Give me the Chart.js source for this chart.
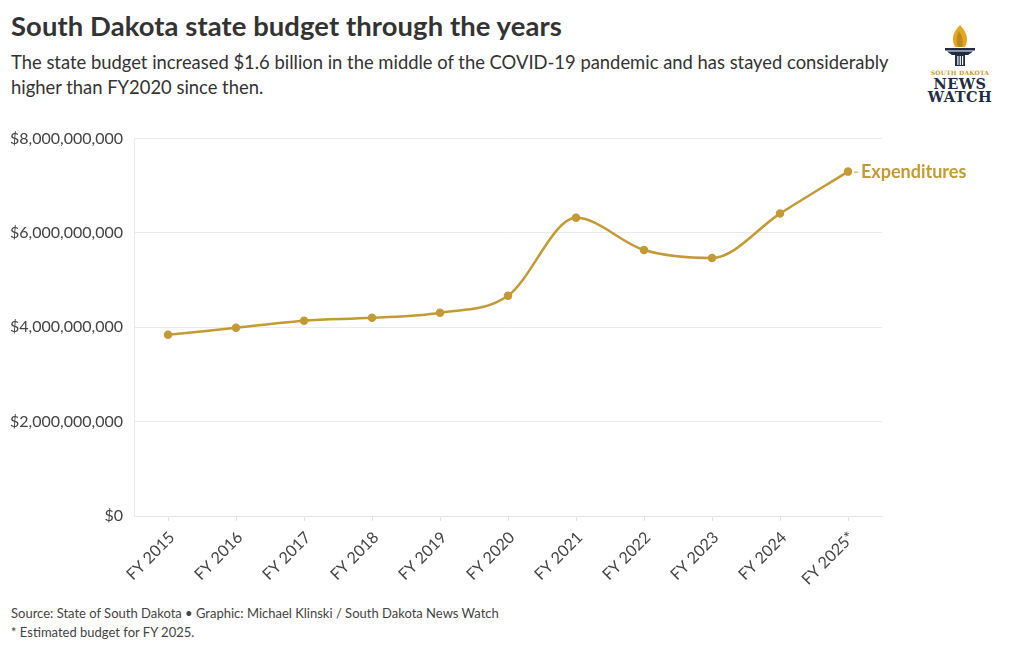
<!DOCTYPE html>
<html>
  <head>
    <meta charset="utf-8" />
    <title>South Dakota state budget through the years</title>
    <script src="https://cdn.jsdelivr.net/npm/chart.js@4"></script>
    <style>
      body { margin: 0; background: #fff; font-family: Lato, "Open Sans", sans-serif; color: #333; }
      #page { position: relative; width: 1020px; height: 650px; overflow: hidden; }
      h1 { position: absolute; left: 11px; top: 9px; margin: 0; font-size: 27.4px; font-weight: 700; color: #333; letter-spacing: 0.1px; }
      .sub { position: absolute; left: 11px; top: 50px; width: 900px; margin: 0; font-size: 18.4px; line-height: 25px; color: #333; }
      .foot { position: absolute; left: 11px; top: 604px; font-size: 13px; line-height: 19px; color: #444; }
      #chartBox { position: absolute; left: 0; top: 118px; width: 1020px; height: 477px; }
      #logo { position: absolute; left: 926px; top: 22px; width: 68px; text-align: center; color: #1f2d44; }
      #logo svg { display: block; }
      #logo .sd { font-family: "DejaVu Serif"; font-weight: 700; font-size: 6px; line-height: 7px; color: #c4982f; letter-spacing: 0.2px; margin-top: 1px; }
      #logo .nw { font-family: "DejaVu Serif"; font-weight: 700; font-size: 14.5px; line-height: 13px; letter-spacing: 0.5px; margin-top: 1px; }
    </style>
  </head>
  <body>
    <div id="page">
      <h1>South Dakota state budget through the years</h1>
      <p class="sub">The state budget increased $1.6 billion in the middle of the COVID-19 pandemic and has stayed considerably higher than FY2020 since then.</p>
      <div id="logo">
        <svg width="68" height="46" viewBox="0 0 68 46">
          <path d="M34 3 C27 10 25 17 29 25 L39 25 C43 18 41 10 34 3 Z" fill="#e3a823" />
          <path d="M33 9 C30 14 30 20 32 25 L36 25 C38 19 36 13 33 9 Z" fill="#c08a1c" />
          <rect x="19" y="26" width="30" height="2.5" fill="#1f2d44" />
          <path d="M21 29.5 L47 29.5 L42 33 L26 33 Z" fill="#1f2d44" />
          <rect x="29" y="33" width="10" height="11" fill="#1f2d44" />
          <rect x="31.3" y="34" width="1.2" height="9" fill="#fff" />
          <rect x="33.7" y="34" width="1.2" height="9" fill="#fff" />
          <rect x="36" y="34" width="1.2" height="9" fill="#fff" />
        </svg>
        <div class="sd">SOUTH DAKOTA</div>
        <div class="nw">NEWS<br />WATCH</div>
      </div>
      <div id="chartBox"><canvas id="budgetChart"></canvas></div>
      <div class="foot">Source: State of South Dakota • Graphic: Michael Klinski / South Dakota News Watch<br />* Estimated budget for FY 2025.</div>
    </div>
    <script>
      const years = ["FY 2015", "FY 2016", "FY 2017", "FY 2018", "FY 2019", "FY 2020", "FY 2021", "FY 2022", "FY 2023", "FY 2024", "FY 2025*"];
      const expenditures = [3840000000, 3990000000, 4140000000, 4200000000, 4310000000, 4670000000, 6320000000, 5640000000, 5470000000, 6410000000, 7300000000];
      const yTicks = [0, 2000000000, 4000000000, 6000000000, 8000000000];
      const seriesName = "Expenditures";

      const gold = "#c39a35";

      // label at the end of the line, like the original
      const endLabel = {
        id: "endLabel",
        afterDatasetsDraw(chart) {
          const meta = chart.getDatasetMeta(0);
          const last = meta.data[meta.data.length - 1];
          const ctx = chart.ctx;
          ctx.save();
          ctx.strokeStyle = gold;
          ctx.lineWidth = 1;
          ctx.beginPath();
          ctx.moveTo(last.x + 6, last.y + 0.5);
          ctx.lineTo(last.x + 10, last.y + 0.5);
          ctx.stroke();
          ctx.fillStyle = gold;
          ctx.font = "bold 18px Lato";
          ctx.textBaseline = "middle";
          ctx.fillText(seriesName, last.x + 13, last.y + 1);
          ctx.restore();
        },
      };

      const ctx = document.getElementById("budgetChart").getContext("2d");
      new Chart(ctx, {
        type: "line",
        data: {
          labels: years,
          datasets: [
            {
              label: seriesName,
              data: expenditures,
              borderColor: gold,
              backgroundColor: gold,
              borderWidth: 2.5,
              pointRadius: 3,
              pointHoverRadius: 4,
              cubicInterpolationMode: "monotone",
            },
          ],
        },
        options: {
          responsive: true,
          maintainAspectRatio: false,
          animation: false,
          layout: { padding: { left: 0, right: 138, top: 0, bottom: 0 } },
          plugins: { legend: { display: false }, tooltip: { enabled: false } },
          scales: {
            x: {
              offset: true,
              afterFit: (s) => { s.height = 79; },
              grid: { drawOnChartArea: false, offset: false, tickLength: 5, color: "#e3e3e3" },
              border: { color: "#e3e3e3" },
              ticks: { minRotation: 45, maxRotation: 45, color: "#444", padding: 7, labelOffset: 4, font: { family: "Lato", size: 16 } },
            },
            y: {
              min: 0,
              max: 8000000000,
              afterFit: (s) => { s.width = 134; },
              afterBuildTicks: (s) => { s.ticks = yTicks.map((v) => ({ value: v })); },
              grid: { drawTicks: false, color: "#ebebeb" },
              border: { color: "#ebebeb" },
              ticks: {
                padding: 11,
                color: "#444",
                font: { family: "Lato", size: 16 },
                callback: (v) => "$" + v.toLocaleString("en-US"),
              },
            },
          },
        },
        plugins: [endLabel],
      });
    </script>
  </body>
</html>
